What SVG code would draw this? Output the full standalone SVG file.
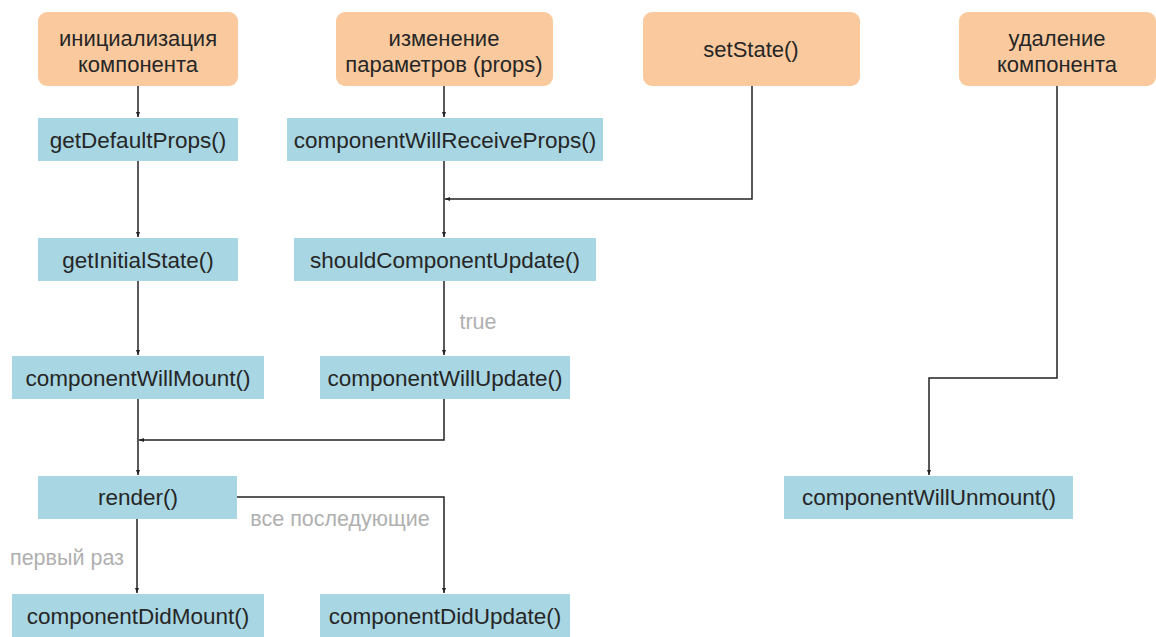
<svg xmlns="http://www.w3.org/2000/svg" width="1156" height="637" viewBox="0 0 1156 637">
<defs>
<style>
.ev{fill:#FACA9E}
.fn{fill:#A8D6E3}
text{font-family:"Liberation Sans",Arial,sans-serif;fill:#262626;text-anchor:middle}
.t{font-size:22.5px}
.h{font-size:22px}
.lbl{font-size:21.5px;fill:#B0B0B0}
.c{fill:none;stroke:#222;stroke-width:1.5}
</style>
<marker id="ar" viewBox="0 0 10 10" refX="10" refY="5" markerWidth="5" markerHeight="7" markerUnits="userSpaceOnUse" orient="auto">
<path d="M0,1 L10,5 L0,9 z" fill="#222"/>
</marker>
</defs>
<rect width="1156" height="637" fill="#fff"/>
<g id="connectors">
<path class="c" d="M138,86 V117" marker-end="url(#ar)"/>
<path class="c" d="M444,86 V117" marker-end="url(#ar)"/>
<path class="c" d="M138,161 V237" marker-end="url(#ar)"/>
<path class="c" d="M444,161 V237" marker-end="url(#ar)"/>
<path class="c" d="M752,86 V199 H445" marker-end="url(#ar)"/>
<path class="c" d="M444,281 V355" marker-end="url(#ar)"/>
<path class="c" d="M138,281 V355" marker-end="url(#ar)"/>
<path class="c" d="M138,399 V475" marker-end="url(#ar)"/>
<path class="c" d="M444,399 V440 H139" marker-end="url(#ar)"/>
<path class="c" d="M137,519 V593" marker-end="url(#ar)"/>
<path class="c" d="M237,497 H444 V593" marker-end="url(#ar)"/>
<path class="c" d="M1057,86 V378 H929 V475" marker-end="url(#ar)"/>
<text class="lbl" x="478" y="329">true</text>
<text class="lbl" x="67" y="565">первый раз</text>
<text class="lbl" x="340" y="526">все последующие</text>
</g>
<g id="init">
<rect class="ev" x="38" y="12" width="200" height="74" rx="9"/>
<text class="h" x="138" y="46">инициализация</text>
<text class="h" x="138" y="72">компонента</text>
</g>
<g id="props">
<rect class="ev" x="336" y="12" width="217" height="74" rx="9"/>
<text class="h" x="444" y="46">изменение</text>
<text class="h" x="444" y="72">параметров (props)</text>
</g>
<g id="setState">
<rect class="ev" x="643" y="12" width="217" height="74" rx="9"/>
<text class="h" x="751" y="57">setState()</text>
</g>
<g id="unmountEvent">
<rect class="ev" x="959" y="12" width="197" height="74" rx="9"/>
<text class="h" x="1057" y="46">удаление</text>
<text class="h" x="1057" y="72">компонента</text>
</g>
<g id="getDefaultProps">
<rect class="fn" x="38" y="118" width="200" height="43"/>
<text class="t" x="138" y="148">getDefaultProps()</text>
</g>
<g id="componentWillReceiveProps">
<rect class="fn" x="287" y="118" width="316" height="43"/>
<text class="t" x="445" y="148">componentWillReceiveProps()</text>
</g>
<g id="getInitialState">
<rect class="fn" x="38" y="238" width="200" height="43"/>
<text class="t" x="138" y="268">getInitialState()</text>
</g>
<g id="shouldComponentUpdate">
<rect class="fn" x="294" y="238" width="302" height="43"/>
<text class="t" x="445" y="268">shouldComponentUpdate()</text>
</g>
<g id="componentWillMount">
<rect class="fn" x="12" y="356" width="252" height="43"/>
<text class="t" x="138" y="386">componentWillMount()</text>
</g>
<g id="componentWillUpdate">
<rect class="fn" x="320" y="356" width="250" height="43"/>
<text class="t" x="445" y="386">componentWillUpdate()</text>
</g>
<g id="render">
<rect class="fn" x="38" y="476" width="199" height="43"/>
<text class="t" x="138" y="505">render()</text>
</g>
<g id="componentDidMount">
<rect class="fn" x="12" y="594" width="252" height="43"/>
<text class="t" x="138" y="624">componentDidMount()</text>
</g>
<g id="componentDidUpdate">
<rect class="fn" x="320" y="594" width="250" height="43"/>
<text class="t" x="445" y="624">componentDidUpdate()</text>
</g>
<g id="componentWillUnmount">
<rect class="fn" x="784" y="476" width="289" height="43"/>
<text class="t" x="929" y="505">componentWillUnmount()</text>
</g>
</svg>
